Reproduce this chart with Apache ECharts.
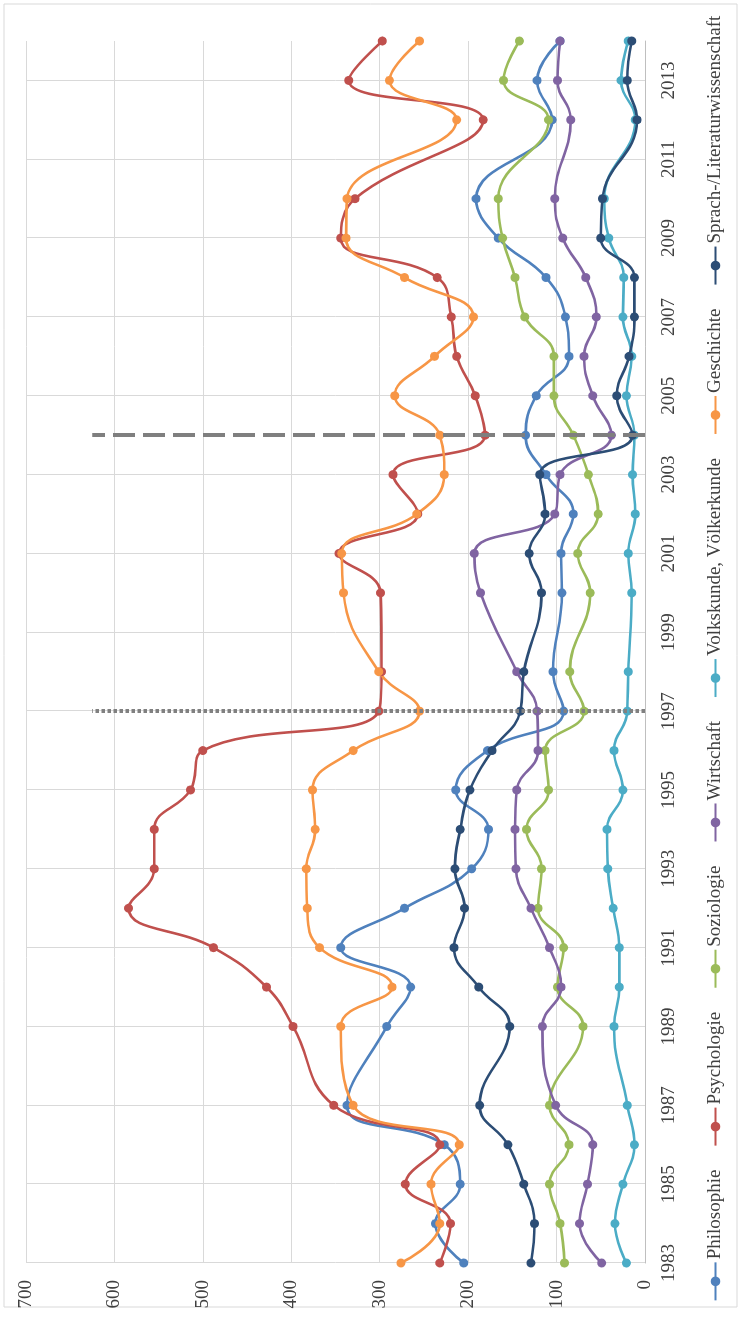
<!DOCTYPE html>
<html>
<head>
<meta charset="utf-8">
<script src="https://cdn.jsdelivr.net/npm/echarts@6/dist/echarts.min.js"></script>
<style>
html,body{margin:0;padding:0;background:#fff;overflow:hidden;width:740px;height:1317px;}
#chart{position:absolute;left:0;top:0;width:1317px;height:740px;transform-origin:0 0;transform:translate(0,1317px) rotate(-90deg);}
</style>
</head>
<body>
<div id="chart"></div>
<script>
const years = ['1983','1984','1985','1986','1987','1988','1989','1990','1991','1992','1993','1994','1995','1996','1997','1998','1999','2000','2001','2002','2003','2004','2005','2006','2007','2008','2009','2010','2011','2012','2013','2014'];
const valueTicks = [0,100,200,300,400,500,600,700];

const philosophie = [205,237,209,227,337,null,292,265,344,272,196,177,214,178,92,104,null,94,95,81,112,135,123,86,90,112,166,191,null,105,122,96];
const psychologie = [232,220,271,232,352,null,398,428,488,584,555,555,514,500,301,298,null,299,346,257,285,181,192,213,219,235,344,328,null,183,335,297];
const soziologie = [91,96,108,86,108,null,70,99,92,121,117,134,109,113,69,85,null,62,76,53,64,81,103,103,136,147,161,166,null,109,160,142];
const wirtschaft = [49,74,65,59,101,null,116,95,108,129,146,147,145,121,122,145,null,186,193,102,96,38,59,69,55,67,93,102,null,84,99,96];
const volkskunde = [21,34,25,12,20,null,35,29,29,36,42,43,25,35,20,19,null,15,19,11,14,12,21,15,25,24,41,46,null,11,27,19];
const geschichte = [276,232,242,210,330,null,344,286,368,382,383,373,376,330,255,301,null,341,343,258,227,232,283,238,194,272,338,337,null,213,289,255];
const sprach = [129,125,137,155,187,null,153,188,216,204,215,209,198,173,141,137,null,117,131,113,119,14,32,18,12,12,50,48,null,9,20,15];

const seriesNames = ['Philosophie','Psychologie','Soziologie','Wirtschaft','Volkskunde, Völkerkunde','Geschichte','Sprach-/Literaturwissenschaft'];
const seriesData = [philosophie, psychologie, soziologie, wirtschaft, volkskunde, geschichte, sprach];
const colors = ['#4F81BD','#C0504D','#9BBB59','#8064A2','#4BACC6','#F79646','#2C4D75'];

const markYears = ['1997','2004'];
const markTop = 625;

const FONT = 'Liberation Serif';
const chart = echarts.init(document.getElementById('chart'), null, {renderer:'canvas'});

const series = seriesData.map((d, i) => ({
  name: seriesNames[i],
  type: 'line',
  data: d,
  smooth: 0.45,
  connectNulls: true,
  symbol: 'circle',
  symbolSize: 9,
  lineStyle: {width: 2.6, color: colors[i]},
  itemStyle: {color: colors[i]},
  emphasis: {disabled: true}
}));

series[series.length-1].markLine = {
  silent: true,
  symbol: ['none','none'],
  label: {show: false},
  animation: false,
  data: [
    [{coord:[markYears[0], 0], lineStyle:{color:'#808080', width:4, type:[3.5,2.5], cap:'butt'}}, {coord:[markYears[0], markTop]}],
    [{coord:[markYears[1], 0], lineStyle:{color:'#7F7F7F', width:4, type:[22,8], cap:'butt'}}, {coord:[markYears[1], markTop]}]
  ]
};

chart.setOption({
  animation: false,
  color: colors,
  textStyle: {fontFamily: FONT},
  graphic: [{
    type: 'rect', silent: true, z: -10,
    shape: {x: 10, y: 4, width: 1303, height: 733},
    style: {fill: '#fff', stroke: '#D9D9D9', lineWidth: 1}
  }],
  grid: {left: 54, right: 41, top: 26, bottom: 95},
  xAxis: {
    type: 'category',
    data: years,
    boundaryGap: false,
    axisLine: {lineStyle: {color: '#BFBFBF', width: 1}},
    axisTick: {show: false},
    axisLabel: {interval: 1, margin: 15, fontSize: 19, color: '#404040', fontFamily: FONT},
    splitLine: {show: true, interval: 1, lineStyle: {color: '#D9D9D9', width: 1}}
  },
  yAxis: {
    type: 'value',
    min: valueTicks[0],
    max: valueTicks[valueTicks.length-1],
    interval: 100,
    axisLine: {show: false},
    axisTick: {show: false},
    axisLabel: {margin: 17, fontSize: 19, color: '#404040', fontFamily: FONT},
    splitLine: {lineStyle: {color: '#D9D9D9', width: 1}}
  },
  legend: {
    data: seriesNames,
    top: 701,
    left: 'center',
    itemGap: 23,
    itemWidth: 38,
    itemHeight: 12,
    textStyle: {fontSize: 19, color: '#404040', fontFamily: FONT, padding: [0,0,0,-2]}
  },
  series: series
});
</script>
</body>
</html>
